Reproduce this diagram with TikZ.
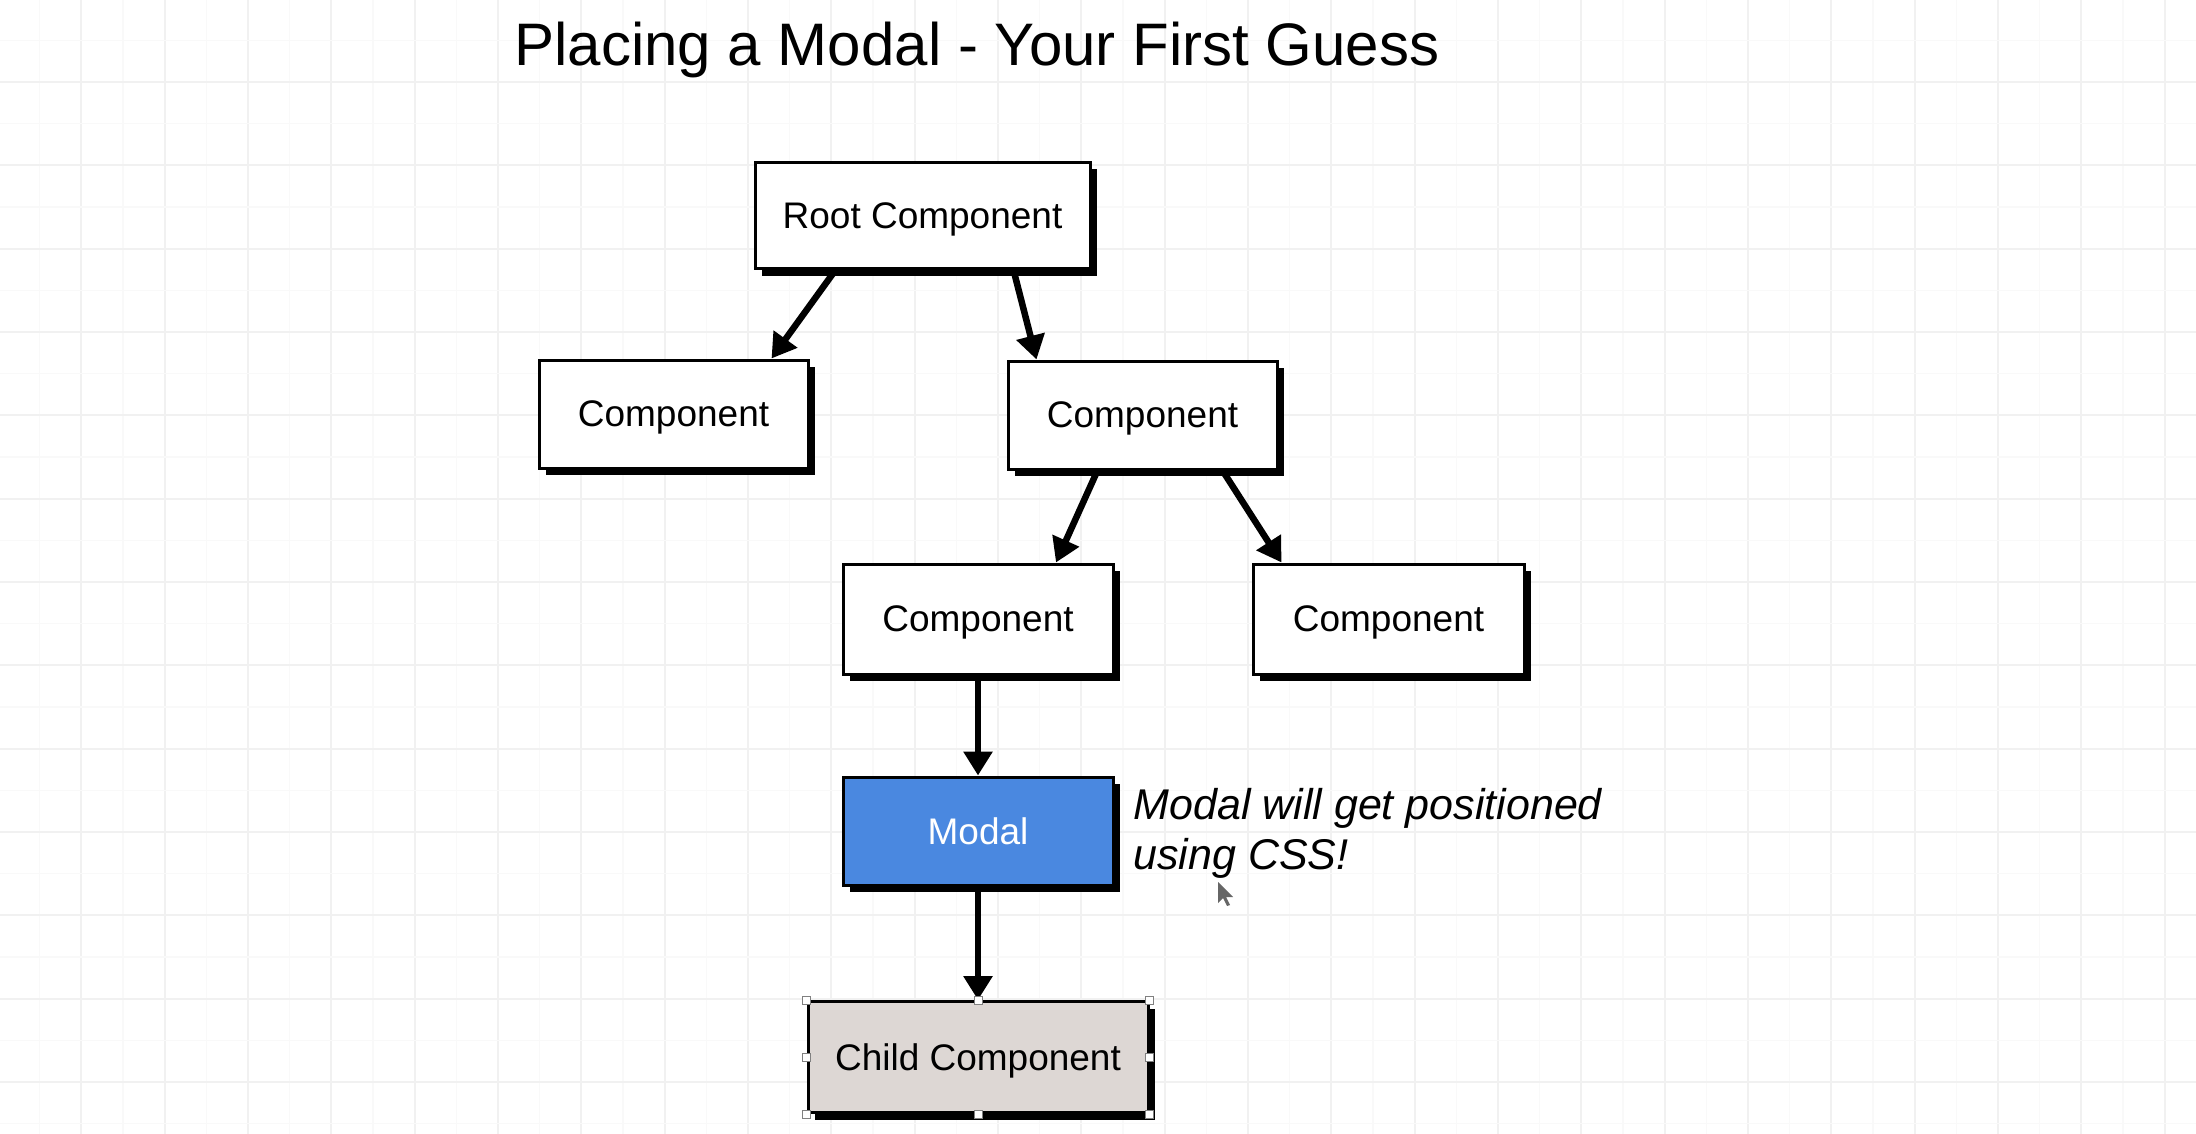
\documentclass[tikz,border=0pt]{standalone}
\usepackage{fontspec}
\setmainfont{Liberation Sans}
\usetikzlibrary{arrows.meta,shadows,calc}
\definecolor{modalblue}{HTML}{4A88E0}
\definecolor{childfill}{HTML}{DDD7D4}
\definecolor{gridmajor}{HTML}{F1F1F1}
\definecolor{gridminor}{HTML}{F9F9F9}
\tikzset{
  compbox/.style={draw=black, line width=3pt, fill=white, rectangle,
    font=\fontsize{37}{44}\selectfont, inner sep=0pt, text depth=0pt,
    drop shadow={shadow xshift=7pt, shadow yshift=-7pt, fill=black, opacity=1}},
  arr/.style={line width=6.5pt, -{Triangle[width=28pt,length=24pt]}},
  handle/.style={draw=gray, line width=1pt, fill=white, minimum size=8pt, inner sep=0pt, rectangle},
  gminor/.style={draw=gridminor, line width=1.5pt},
  gmajor/.style={draw=gridmajor, line width=2pt}
}
\begin{document}
\begin{tikzpicture}[x=1pt,y=-1pt]
\useasboundingbox (0,0) rectangle (2196,1134);
\fill[white] (0,0) rectangle (2196,1134);
% grid
\foreach \i in {0,...,26} {
  \draw[gminor] ({39.7+83.33*\i},0) -- ({39.7+83.33*\i},1134);
  \draw[gmajor] ({81.3+83.33*\i},0) -- ({81.3+83.33*\i},1134);
}
\foreach \j in {0,...,13} {
  \draw[gminor] (0,{40.4+83.33*\j}) -- (2196,{40.4+83.33*\j});
  \draw[gmajor] (0,{82+83.33*\j}) -- (2196,{82+83.33*\j});
}
% title
\node (title) at (977,50) {\fontsize{60}{72}\selectfont Placing a Modal - Your First Guess};
% boxes
\node[compbox, minimum width=335pt, minimum height=106pt] (root) at (922.5,215.5) {Root Component};
\node[compbox, minimum width=269pt, minimum height=108pt] (l1l) at (673.5,414) {Component};
\node[compbox, minimum width=269pt, minimum height=108pt] (l1r) at (1142.5,415) {Component};
\node[compbox, minimum width=270pt, minimum height=110pt] (l2l) at (978,619) {Component};
\node[compbox, minimum width=271pt, minimum height=110pt] (l2r) at (1388.5,619) {Component};
\node[compbox, fill=modalblue, text=white, minimum width=270pt, minimum height=108pt] (modal) at (978,831) {Modal};
\node[compbox, fill=childfill, minimum width=340pt, minimum height=111pt] (child) at (978,1057) {Child Component};
% annotation
\node[anchor=west, align=left, font=\fontsize{43}{50}\selectfont\itshape] (note) at (1130,833) {Modal will get positioned\\using CSS!};
% arrows
\draw[arr] ($(root.south)+(-87,0)$) -- ($(l1l.north)+(98,0)$);
\draw[arr] ($(root.south)+(91,0)$) -- ($(l1r.north)+(-106,0)$);
\draw[arr] ($(l1r.south)+(-45,0)$) -- ($(l2l.north)+(78,0)$);
\draw[arr] ($(l1r.south)+(80,0)$) -- ($(l2r.north)+(-107,0)$);
\draw[arr] (l2l.south) -- (modal.north);
\draw[arr] (modal.south) -- (child.north);
% selection handles
\foreach \a in {north west,north,north east,east,south east,south,south west,west} {
  \node[handle] at (child.\a) {};
}
% cursor
\fill[gray!80!black] (1218,882) -- (1218,903) -- (1223,898) -- (1227,906) -- (1230,905) -- (1226,897) -- (1233,897) -- cycle;
\end{tikzpicture}
\end{document}
